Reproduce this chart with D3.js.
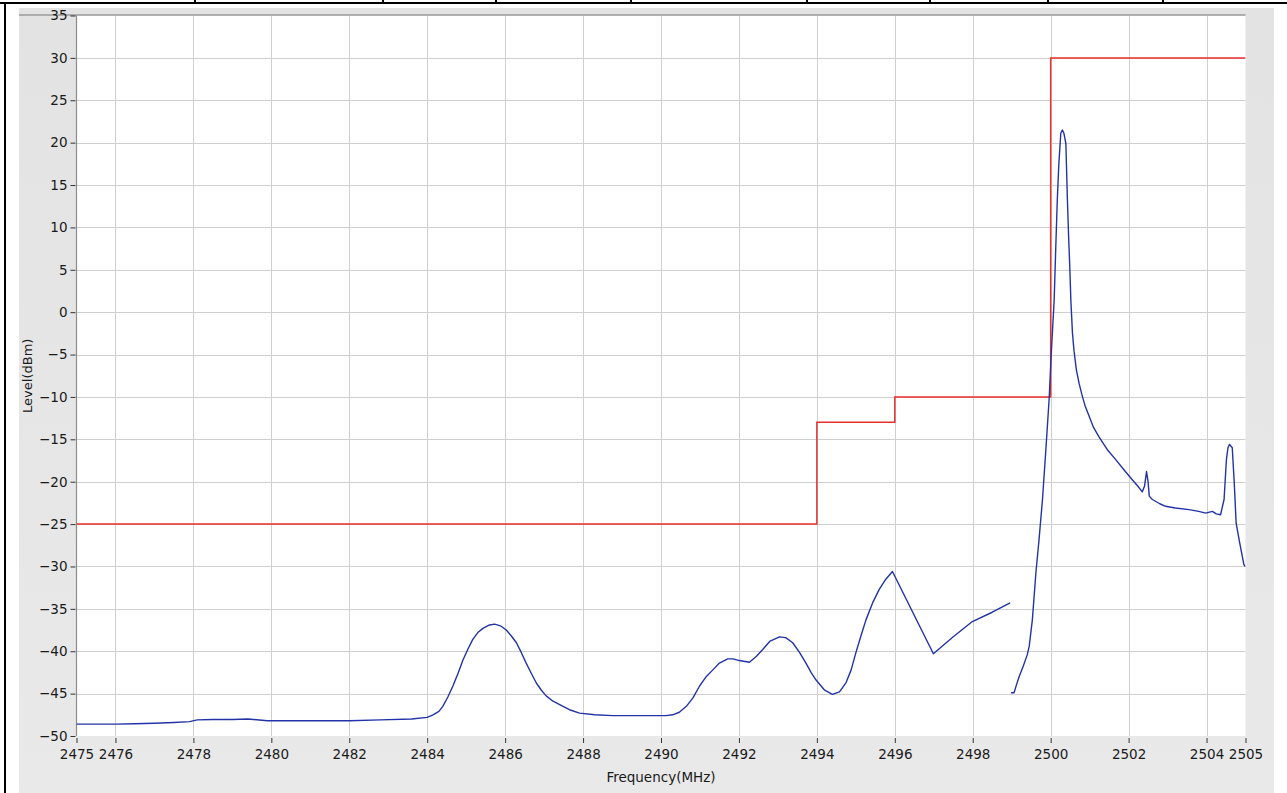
<!DOCTYPE html>
<html><head><meta charset="utf-8">
<script src="https://cdn.jsdelivr.net/npm/d3@7"></script>
<style>
html,body{margin:0;padding:0;background:#fff;}
svg{display:block;}
text{font-family:"DejaVu Sans",sans-serif;fill:#1a1a1a;}
</style></head>
<body>
<svg id="chart" width="1287" height="793"></svg>
<script>
// ---- data ----
const traceFreqA = [2475.0,2475.5,2476.0,2476.5,2477.0,2477.5,2477.9,2478.1,2478.5,2479.0,2479.4,2479.9,2480.5,2481.0,2481.5,2482.0,2482.8,2483.6,2484.0,2484.15,2484.3,2484.4,2484.53,2484.66,2484.8,2484.92,2485.05,2485.17,2485.3,2485.43,2485.6,2485.73,2485.88,2486.03,2486.16,2486.29,2486.42,2486.54,2486.67,2486.8,2486.93,2487.06,2487.23,2487.4,2487.65,2487.91,2488.3,2488.76,2489.2,2489.7,2490.13,2490.3,2490.47,2490.65,2490.82,2490.99,2491.16,2491.33,2491.5,2491.71,2491.85,2492.01,2492.27,2492.45,2492.61,2492.8,2493.04,2493.2,2493.38,2493.55,2493.72,2493.85,2493.98,2494.2,2494.4,2494.58,2494.75,2494.88,2495.0,2495.13,2495.26,2495.43,2495.6,2495.77,2495.94,2496.99,2497.5,2497.99,2498.5,2498.96];
const traceLevelA = [-48.6,-48.6,-48.6,-48.55,-48.5,-48.4,-48.3,-48.1,-48.05,-48.05,-48.0,-48.2,-48.2,-48.2,-48.2,-48.2,-48.1,-48.0,-47.8,-47.5,-47.1,-46.5,-45.4,-44.1,-42.5,-41.0,-39.7,-38.6,-37.8,-37.3,-36.9,-36.8,-37.0,-37.5,-38.2,-39.0,-40.2,-41.4,-42.6,-43.75,-44.6,-45.3,-45.9,-46.3,-46.9,-47.3,-47.5,-47.6,-47.6,-47.6,-47.6,-47.5,-47.2,-46.5,-45.5,-44.1,-43.0,-42.2,-41.4,-40.9,-40.9,-41.1,-41.3,-40.6,-39.8,-38.8,-38.3,-38.4,-39.0,-40.1,-41.4,-42.5,-43.4,-44.6,-45.1,-44.8,-43.7,-42.2,-40.2,-38.2,-36.3,-34.3,-32.7,-31.5,-30.6,-40.3,-38.3,-36.5,-35.4,-34.3];
const traceFreqB = [2498.98,2499.06,2499.12,2499.19,2499.3,2499.4,2499.45,2499.53,2499.62,2499.7,2499.79,2499.88,2499.96,2500.02,2500.09,2500.13,2500.17,2500.21,2500.26,2500.3,2500.34,2500.39,2500.43,2500.46,2500.49,2500.52,2500.56,2500.6,2500.66,2500.73,2500.8,2500.88,2500.99,2501.1,2501.24,2501.45,2501.67,2501.9,2502.1,2502.25,2502.35,2502.41,2502.46,2502.5,2502.53,2502.61,2502.8,2502.95,2503.2,2503.55,2503.8,2503.98,2504.15,2504.25,2504.36,2504.45,2504.51,2504.55,2504.59,2504.66,2504.71,2504.76,2504.85,2504.96,2505.0];
const traceLevelB = [-44.9,-44.9,-44.0,-43.0,-41.7,-40.4,-39.4,-36.3,-30.8,-26.9,-22.1,-16.0,-10.3,-4.5,1.45,7.5,13.2,17.5,21.1,21.5,21.1,19.9,13.2,9.0,5.4,1.2,-2.5,-4.6,-6.8,-8.4,-9.7,-11.0,-12.3,-13.6,-14.7,-16.2,-17.4,-18.7,-19.8,-20.6,-21.2,-20.5,-18.8,-20.0,-21.7,-22.1,-22.6,-22.9,-23.1,-23.3,-23.5,-23.7,-23.5,-23.8,-23.9,-22.1,-17.4,-16.0,-15.6,-16.0,-20.0,-24.9,-27.2,-29.8,-30.0];
const limitFreq = [2475, 2494, 2496, 2500, 2505];
const limitLevel = [-25, -13, -10, 30, 30];
const xTickValues = [2475,2476,2478,2480,2482,2484,2486,2488,2490,2492,2494,2496,2498,2500,2502,2504,2505];
const xGridValues = [2476,2478,2480,2482,2484,2486,2488,2490,2492,2494,2496,2498,2500,2502,2504];
const yTickValues = [35,30,25,20,15,10,5,0,-5,-10,-15,-20,-25,-30,-35,-40,-45,-50];
const xTitle = "Frequency(MHz)";
const yTitle = "Level(dBm)";
const headerDividers = [195,383,496,631,807,930,1048,1163];

// ---- layout ----
const svg = d3.select("#chart");
const L = 76.5, R = 1245.5, T = 15.5, B = 736;
const x = d3.scaleLinear().domain([2475,2505]).range([L,R]);
const y = d3.scaleLinear().domain([-50,35]).range([B,T]);

// outer frame (table lines)
svg.append("rect").attr("x",0).attr("y",0).attr("width",1287).attr("height",793).attr("fill","#fff");
const grad = svg.append("defs").append("linearGradient").attr("id","pg").attr("x1",0).attr("x2",0).attr("y1",0).attr("y2",1);
grad.append("stop").attr("offset","0%").attr("stop-color","#e3e3e3");
grad.append("stop").attr("offset","100%").attr("stop-color","#e9e9e9");
svg.append("rect").attr("x",19).attr("y",8).attr("width",1255).attr("height",785).attr("fill","url(#pg)");
svg.append("line").attr("x1",0).attr("x2",1287).attr("y1",3).attr("y2",3).attr("stroke","#000").attr("stroke-width",2);
svg.append("line").attr("x1",5).attr("x2",5).attr("y1",2).attr("y2",793).attr("stroke","#000").attr("stroke-width",2);
svg.selectAll("line.hd").data(headerDividers).join("line").attr("class","hd")
  .attr("x1",d=>d).attr("x2",d=>d).attr("y1",0).attr("y2",3).attr("stroke","#000").attr("stroke-width",2);

// plot area
svg.append("rect").attr("x",L).attr("y",T).attr("width",R-L).attr("height",B-T).attr("fill","#fff");

// grid
svg.append("g").selectAll("line").data(xGridValues).join("line")
  .attr("x1",d=>Math.round(x(d))+0.5).attr("x2",d=>Math.round(x(d))+0.5).attr("y1",T).attr("y2",B)
  .attr("stroke","#cfcfcf").attr("stroke-width",1);
svg.append("g").selectAll("line").data(yTickValues.filter(v=>v>-50&&v<35)).join("line")
  .attr("x1",L).attr("x2",R).attr("y1",d=>Math.round(y(d))+0.5).attr("y2",d=>Math.round(y(d))+0.5)
  .attr("stroke","#cfcfcf").attr("stroke-width",1);

// plot borders
svg.append("line").attr("x1",19).attr("x2",R).attr("y1",T-0.5).attr("y2",T-0.5).attr("stroke","#9a9a9a").attr("stroke-width",1.5);
svg.append("line").attr("x1",L).attr("x2",L).attr("y1",T).attr("y2",B).attr("stroke","#8c8c8c").attr("stroke-width",1.2);

// axes
const xAxis = d3.axisBottom(x).tickValues(xTickValues).tickFormat(d3.format("d")).tickSize(5).tickPadding(6);
const gx = svg.append("g").attr("transform",`translate(0,${B+2})`).call(xAxis);
gx.select(".domain").remove();
gx.selectAll(".tick line").attr("stroke","#333");
gx.selectAll(".tick text").style("font-size","13.5px").attr("fill","#1a1a1a");

const yAxis = d3.axisLeft(y).tickValues(yTickValues).tickSize(5).tickPadding(3);
const gy = svg.append("g").attr("transform",`translate(${L-1},0)`).call(yAxis);
gy.select(".domain").remove();
gy.selectAll(".tick line").attr("stroke","#333");
gy.selectAll(".tick text").style("font-size","13.5px").attr("fill","#1a1a1a");

// titles
svg.append("text").attr("x",(L+R)/2).attr("y",782).attr("text-anchor","middle").style("font-size","13.5px").text(xTitle);
svg.append("text").attr("transform",`translate(32,${(T+B)/2}) rotate(-90)`).attr("text-anchor","middle").style("font-size","13px").text(yTitle);

// lines
svg.append("clipPath").attr("id","pc").append("rect").attr("x",L).attr("y",T-2).attr("width",R-L).attr("height",B-T+4);
const lineGen = d3.line().x(d=>x(d[0])).y(d=>y(d[1]));
const limitPts = limitFreq.map((f,i)=>[f,limitLevel[i]]);
svg.append("path").datum(limitPts).attr("clip-path","url(#pc)")
  .attr("d", d3.line().x(d=>x(d[0])).y(d=>y(d[1])).curve(d3.curveStepAfter))
  .attr("fill","none").attr("stroke","#e8302c").attr("stroke-width",1.5);

const segA = traceFreqA.map((f,i)=>[f,traceLevelA[i]]);
const segB = traceFreqB.map((f,i)=>[f,traceLevelB[i]]);
[segA, segB].forEach(seg=>{
  svg.append("path").datum(seg).attr("clip-path","url(#pc)").attr("d",lineGen)
    .attr("fill","none").attr("stroke","#2233a8").attr("stroke-width",1.4).attr("stroke-linejoin","round");
});
</script>
</body></html>
